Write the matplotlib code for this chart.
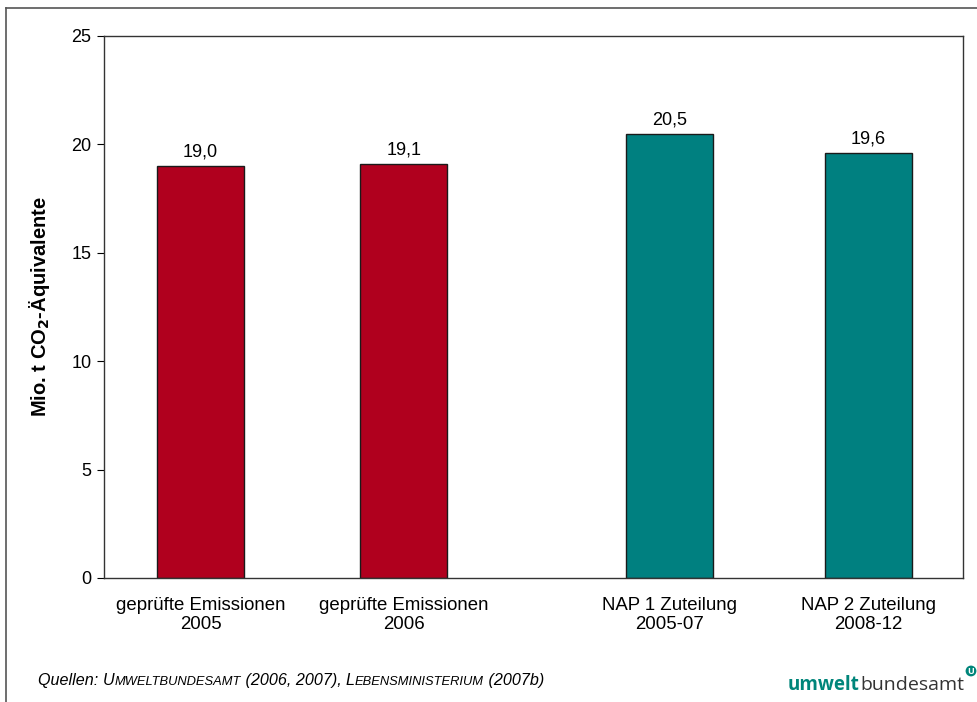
import matplotlib
matplotlib.use('Agg')
import matplotlib.pyplot as plt
from matplotlib.lines import Line2D

plt.rcParams['font.family'] = ['Liberation Sans', 'DejaVu Sans']

categories = ['geprüfte Emissionen\n2005', 'geprüfte Emissionen\n2006',
              'NAP 1 Zuteilung\n2005-07', 'NAP 2 Zuteilung\n2008-12']
values = [19.0, 19.1, 20.5, 19.6]
colors = ['#b0001e', '#b0001e', '#008080', '#008080']
yticks = [0, 5, 10, 15, 20, 25]

fig = plt.figure(figsize=(9.77, 7.02), dpi=100)
ax = fig.add_axes([104 / 977, 1 - 578 / 702, (963 - 104) / 977, (578 - 36) / 702])

# bar centres in axis units (third group is set apart a bit)
xpos = [0, 1.01, 2.33, 3.32]
ax.bar(xpos, values, width=0.43, color=colors, edgecolor='#1a1a1a', linewidth=1)
for x, v in zip(xpos, values):
    ax.annotate(('%.1f' % v).replace('.', ','), (x, v), xytext=(0, 4),
                textcoords='offset points', ha='center', va='bottom', fontsize=13)

ax.set_xlim(-0.48, 3.79)
ax.set_ylim(0, 25)
ax.set_yticks(yticks)
ax.set_xticks(xpos)
ax.set_xticklabels(categories, fontsize=13.4, linespacing=1.15)
ax.tick_params(axis='x', length=0, pad=14)
ax.tick_params(axis='y', length=5, labelsize=13, direction='out', pad=4)
for s in ax.spines.values():
    s.set_color('#333333')
    s.set_linewidth(1)

fig.text(40 / 977, 1 - 307 / 702, r'Mio. t CO$_\mathbf{2}$-Äquivalente', rotation=90,
         ha='center', va='center', fontsize=14.5, fontweight='bold')

# outer frame (left and top)
fig.add_artist(Line2D([6 / 977, 6 / 977], [0, 1 - 8 / 702], transform=fig.transFigure,
                      color='#555555', lw=1.2))
fig.add_artist(Line2D([6 / 977, 1], [1 - 8 / 702, 1 - 8 / 702], transform=fig.transFigure,
                      color='#555555', lw=1.2))

fig.canvas.draw()
renderer = fig.canvas.get_renderer()


def write_pieces(x, y, pieces):
    # draw pieces of text one after another on a common baseline
    for txt, kw in pieces:
        t = fig.text(x, y, txt, va='baseline', ha='left', **kw)
        bb = t.get_window_extent(renderer=renderer)
        x += bb.width / fig.bbox.width
    return x


big = dict(fontsize=11.6, style='italic')
small = dict(fontsize=9.3, style='italic')
write_pieces(38 / 977, 1 - 685 / 702, [
    ('Quellen: ', big), ('U', big), ('MWELTBUNDESAMT', small), (' (2006, 2007), ', big),
    ('L', big), ('EBENSMINISTERIUM', small), (' (2007b)', big)])

write_pieces(788 / 977, 1 - 690 / 702, [
    ('umwelt', dict(fontsize=13.5, fontweight='bold', color='#00857a', family='Open Sans')),
    ('bundesamt', dict(fontsize=14, color='#333333', family='Open Sans'))])
fig.text(971 / 977, 1 - 671 / 702, 'U', fontsize=6.5, fontweight='bold', color='white',
         ha='center', va='center', family='Open Sans',
         bbox=dict(boxstyle='circle,pad=0.1', fc='#00857a', ec='none'))

fig.savefig('out.png', dpi=100)
